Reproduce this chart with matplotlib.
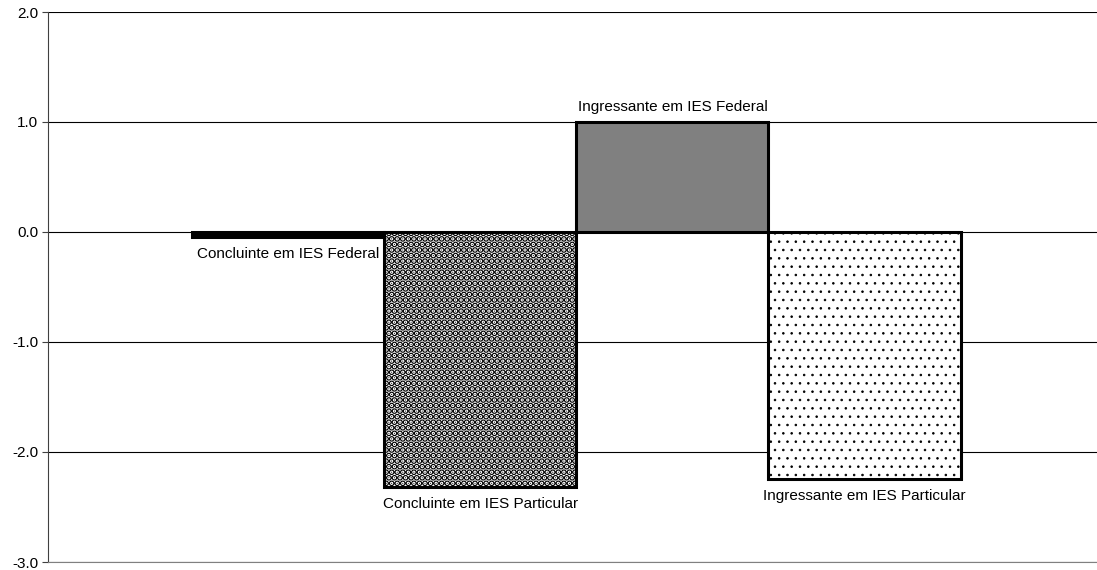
import matplotlib
matplotlib.use("Agg")
import matplotlib.pyplot as plt
from matplotlib.ticker import FormatStrFormatter

categories = ["Concluinte em IES Federal", "Concluinte em IES Particular",
              "Ingressante em IES Federal", "Ingressante em IES Particular"]
values = [-0.05, -2.32, 1.0, -2.25]
yticks = [-3, -2, -1, 0, 1, 2]

plt.rcParams['font.family'] = ['Liberation Sans', 'DejaVu Sans']

fig = plt.figure(figsize=(10.97, 5.70), dpi=100)
ax = fig.add_axes([48/1097, 8/570, 1 - 48/1097, 550/570])

x = list(range(len(categories)))
faces = ['black', 'white', '#808080', 'white']
hatches = [None, '...', None, '..']
hatch_lws = [1.0, 3.2, 1.0, 0.6]
for xi, v, fc, h, hlw in zip(x, values, faces, hatches, hatch_lws):
    with plt.rc_context({'hatch.linewidth': hlw}):
        ax.bar(xi, v, width=1.0, facecolor=fc, edgecolor='black', linewidth=2.2,
               hatch=h, zorder=3)

ax.set_xlim(-1.25, 4.21)
ax.set_ylim(-3, 2)
ax.set_yticks(yticks)
ax.yaxis.set_major_formatter(FormatStrFormatter('%.1f'))
ax.set_xticks([])
ax.grid(axis='y', color='black', linewidth=0.8, zorder=0)
for s in ['top', 'right']:
    ax.spines[s].set_visible(False)
ax.spines['left'].set_color('#404040')
ax.spines['bottom'].set_color('#808080')
ax.tick_params(axis='y', length=4, labelsize=11, color='#404040', pad=3)

for xi, v, lab in zip(x, values, categories):
    if v >= 0:
        ax.annotate(lab, (xi, v), xytext=(0, 6), textcoords='offset points',
                    ha='center', va='bottom', fontsize=11)
    else:
        ax.annotate(lab, (xi, v), xytext=(0, -7), textcoords='offset points',
                    ha='center', va='top', fontsize=11)

fig.savefig("out.png", dpi=100)
